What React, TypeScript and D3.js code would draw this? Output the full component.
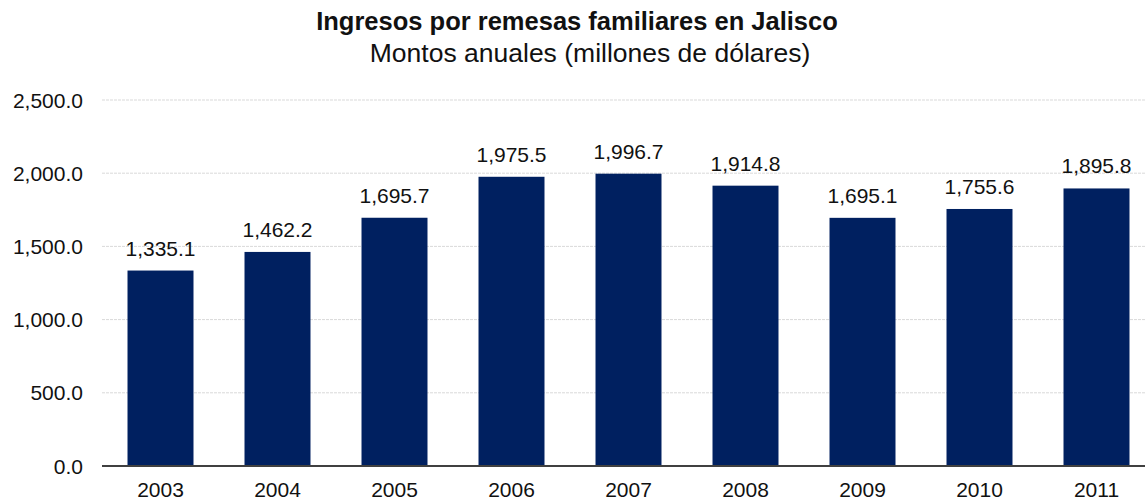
import React from "react";
import * as d3 from "d3";

const years = ["2003", "2004", "2005", "2006", "2007", "2008", "2009", "2010", "2011"];
const amounts = [1335.1, 1462.2, 1695.7, 1975.5, 1996.7, 1914.8, 1695.1, 1755.6, 1895.8];
const yTicks = [0, 500, 1000, 1500, 2000, 2500];
const title = "Ingresos por remesas familiares en Jalisco";
const subtitle = "Montos anuales (millones de dólares)";

export default function App() {
  const W = 1145, H = 500;
  const left = 102, right = 1155, top = 100, bottom = 466;
  const x = d3.scaleBand<string>().domain(years).range([left, right]).paddingInner(0.436).paddingOuter(0.218);
  const y = d3.scaleLinear().domain([0, 2500]).range([bottom, top]);
  const fmt = d3.format(",.1f");
  const font = "'Liberation Sans', Arial, sans-serif";
  return (
    <svg width={W} height={H} style={{ position: "absolute", left: 0, top: 0, background: "#fff" }} fontFamily={font}>
      <text x={577} y={30} textAnchor="middle" fontSize={25.5} fontWeight="bold" fill="#111">{title}</text>
      <text x={590} y={62} textAnchor="middle" fontSize={26.5} fill="#111">{subtitle}</text>
      {yTicks.map((t) => (
        <g key={t}>
          {t > 0 && <line x1={left} x2={W} y1={y(t)} y2={y(t)} stroke="#d9d9d9" strokeWidth={1} strokeDasharray="3,1" />}
          <text x={83} y={y(t) + 7.5} textAnchor="end" fontSize={21} fill="#111">{fmt(t)}</text>
        </g>
      ))}
      {years.map((yr, i) => (
        <g key={yr}>
          <rect x={x(yr)} y={y(amounts[i])} width={x.bandwidth()} height={bottom - y(amounts[i])} fill="#002060" />
          <text x={(x(yr) as number) + x.bandwidth() / 2} y={y(amounts[i]) - 15} textAnchor="middle" fontSize={21} fill="#111">{fmt(amounts[i])}</text>
          <text x={(x(yr) as number) + x.bandwidth() / 2} y={497} textAnchor="middle" fontSize={21} fill="#111">{yr}</text>
        </g>
      ))}
      <line x1={left} x2={W} y1={bottom} y2={bottom} stroke="#404040" strokeWidth={2} />
    </svg>
  );
}
